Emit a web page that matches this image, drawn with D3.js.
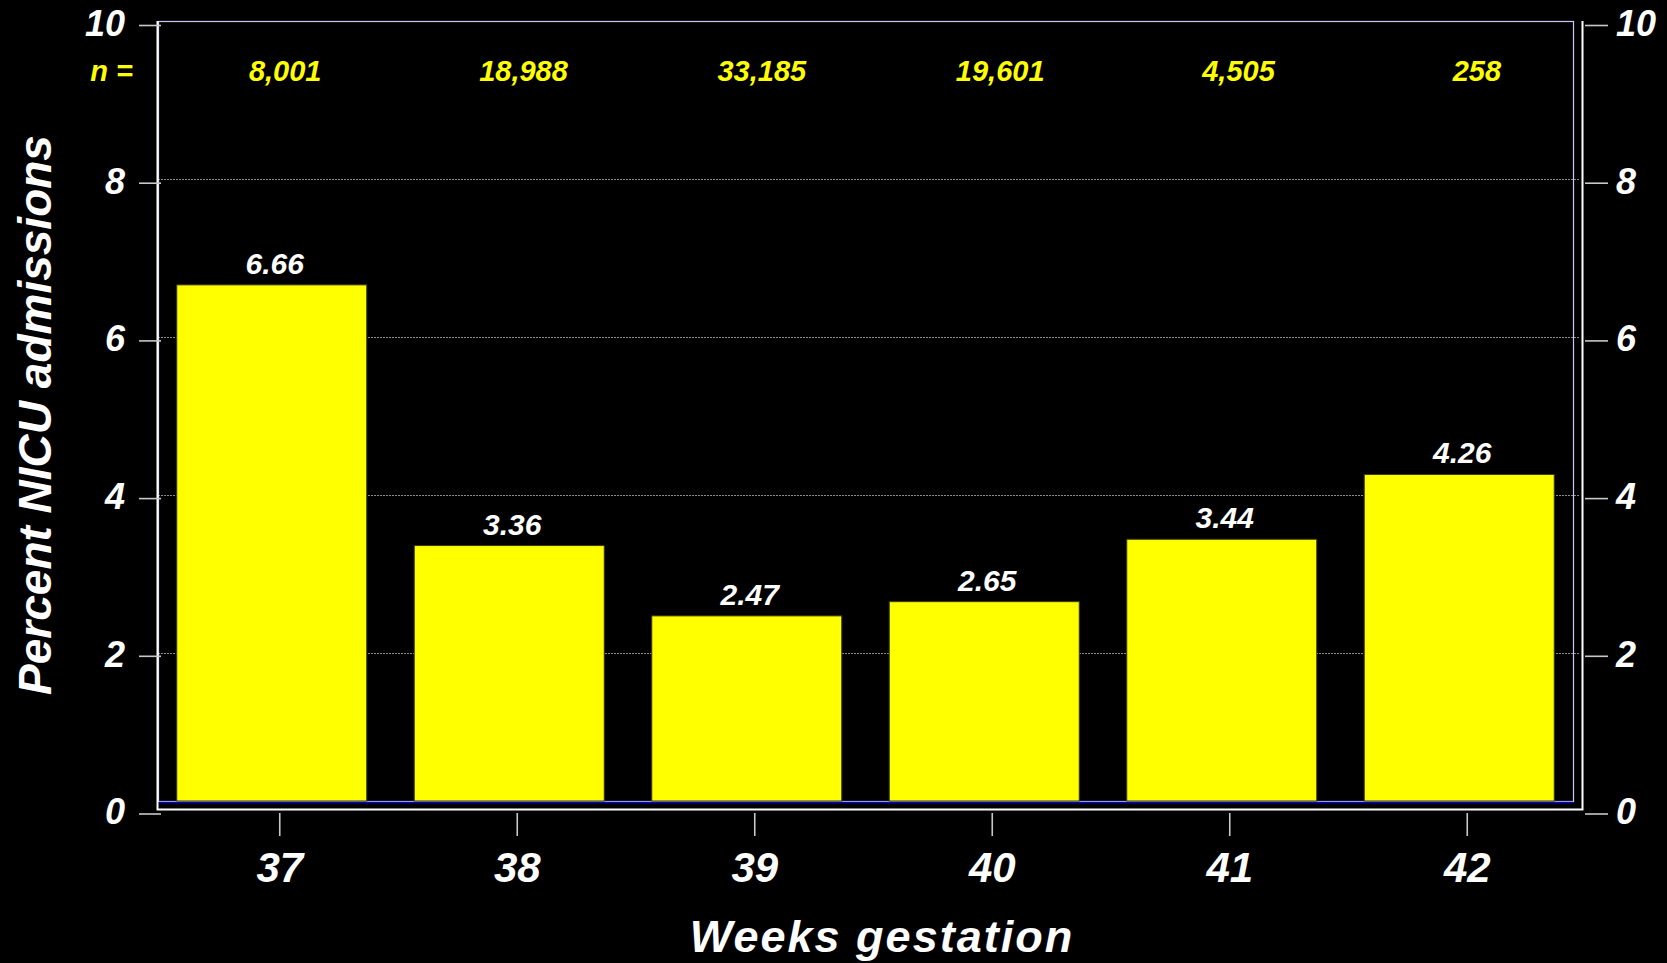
<!DOCTYPE html>
<html>
<head>
<meta charset="utf-8">
<script src="https://cdn.jsdelivr.net/npm/d3@7"></script>
<style>
  html, body { margin: 0; padding: 0; background: #000; }
  svg { display: block; }
  text { font-family: "Liberation Sans", Arial, sans-serif; font-weight: bold; font-style: italic; }
</style>
</head>
<body>
<svg id="chart" width="1667" height="963"></svg>
<script>
// ---- data ----
const weeks = ["37", "38", "39", "40", "41", "42"];
const pctNICU = [6.66, 3.36, 2.47, 2.65, 3.44, 4.26];
const nCounts = ["8,001", "18,988", "33,185", "19,601", "4,505", "258"];
const yTickValues = [0, 2, 4, 6, 8, 10];
const gridValues = [2, 4, 6, 8];
const yLabel = "Percent NICU admissions";
const xLabel = "Weeks gestation";

// ---- layout ----
const W = 1667, H = 963;
const frame = { left: 157, right: 1582, top: 21, bottom: 809 };
const inner = { left: 158, right: 1573, top: 21, bottom: 801 };

const svg = d3.select("#chart");
svg.append("rect").attr("width", W).attr("height", H).attr("fill", "#000");

// scales
const y = d3.scaleLinear().domain([0, 10]).range([811, 21]);
const yAxisScale = d3.scaleLinear().domain([0, 10]).range([813.5, 25]);
const xBars = d3.scaleBand().domain(weeks).range([153, 1578]).paddingInner(0.2).paddingOuter(0.1);
const xTicks = d3.scaleBand().domain(weeks).range([161, 1586]);
const xCounts = d3.scaleBand().domain(weeks).range([166, 1596]);

// gridlines
svg.append("g").selectAll("line").data(gridValues).join("line")
  .attr("x1", inner.left).attr("x2", frame.right - 2)
  .attr("y1", d => y(d) + 0.5).attr("y2", d => y(d) + 0.5)
  .attr("stroke", "#8c8c8c").attr("stroke-width", 1).attr("stroke-dasharray", "2,1");

// inner plot box (lavender)
svg.append("rect")
  .attr("x", inner.left + 0.5).attr("y", inner.top + 0.5)
  .attr("width", inner.right - inner.left).attr("height", inner.bottom - inner.top)
  .attr("fill", "none").attr("stroke", "#c8c8ff").attr("stroke-width", 1.2);

// bars
svg.append("g").selectAll("rect").data(weeks).join("rect")
  .attr("x", d => xBars(d))
  .attr("y", (d, i) => y(pctNICU[i]))
  .attr("width", xBars.bandwidth())
  .attr("height", (d, i) => inner.bottom - y(pctNICU[i]))
  .attr("fill", "#ffff00").attr("stroke", "#3a3a00").attr("stroke-width", 1);

// blue baseline
svg.append("line")
  .attr("x1", inner.left).attr("x2", inner.right)
  .attr("y1", inner.bottom + 1.5).attr("y2", inner.bottom + 1.5)
  .attr("stroke", "#0000c8").attr("stroke-width", 1.6);

// outer frame: left, right, bottom (white)
const framePath = d3.path();
framePath.moveTo(frame.left + 0.5, frame.top);
framePath.lineTo(frame.left + 0.5, frame.bottom + 0.5);
framePath.lineTo(frame.right + 0.5, frame.bottom + 0.5);
framePath.lineTo(frame.right + 0.5, frame.top);
svg.append("path").attr("d", framePath.toString())
  .attr("fill", "none").attr("stroke", "#ffffff").attr("stroke-width", 2);

// left axis
const gLeft = svg.append("g").attr("transform", "translate(161,0)")
  .call(d3.axisLeft(yAxisScale).tickValues(yTickValues).tickSize(22).tickPadding(14).tickFormat(d3.format("d")));
gLeft.select(".domain").remove();
gLeft.selectAll(".tick line").attr("stroke", "#c8c8c8").attr("stroke-width", 1.6);
gLeft.selectAll(".tick text").attr("fill", "#fff").attr("font-size", 36)
  .attr("dy", "0.29em").style("font-family", "'Liberation Sans', Arial, sans-serif");

// right axis
const gRight = svg.append("g").attr("transform", "translate(1585,0)")
  .call(d3.axisRight(yAxisScale).tickValues(yTickValues).tickSize(23).tickPadding(8).tickFormat(d3.format("d")));
gRight.select(".domain").remove();
gRight.selectAll(".tick line").attr("stroke", "#c8c8c8").attr("stroke-width", 1.6);
gRight.selectAll(".tick text").attr("fill", "#fff").attr("font-size", 36)
  .attr("dy", "0.29em").style("font-family", "'Liberation Sans', Arial, sans-serif");

// bottom axis
const gBottom = svg.append("g").attr("transform", "translate(0,813)")
  .call(d3.axisBottom(xTicks).tickSize(23).tickPadding(16));
gBottom.select(".domain").remove();
gBottom.selectAll(".tick line").attr("stroke", "#c8c8c8").attr("stroke-width", 1.6);
gBottom.selectAll(".tick text").attr("fill", "#fff").attr("font-size", 42)
  .attr("dy", "0.71em").style("font-family", "'Liberation Sans', Arial, sans-serif");

// value labels
svg.append("g").selectAll("text").data(weeks).join("text")
  .attr("x", d => xBars(d) + xBars.bandwidth() / 2 + 3)
  .attr("y", (d, i) => y(pctNICU[i]) - 11)
  .attr("text-anchor", "middle").attr("fill", "#fff").attr("font-size", 30)
  .text((d, i) => pctNICU[i].toFixed(2));

// n = labels
svg.append("text").attr("x", 133).attr("y", 81).attr("text-anchor", "end")
  .attr("fill", "#ffff00").attr("font-size", 29).text("n =");
svg.append("g").selectAll("text").data(weeks).join("text")
  .attr("x", d => xCounts(d) + xCounts.bandwidth() / 2)
  .attr("y", 81)
  .attr("text-anchor", "middle").attr("fill", "#ffff00").attr("font-size", 29)
  .text((d, i) => nCounts[i]);

// axis titles
svg.append("text").attr("x", 882).attr("y", 952).attr("text-anchor", "middle")
  .attr("fill", "#fff").attr("font-size", 45).style("letter-spacing", "2px").text(xLabel);
svg.append("text").attr("transform", "translate(51,415) rotate(-90)").attr("text-anchor", "middle")
  .attr("fill", "#fff").attr("font-size", 46).text(yLabel);
</script>
</body>
</html>
